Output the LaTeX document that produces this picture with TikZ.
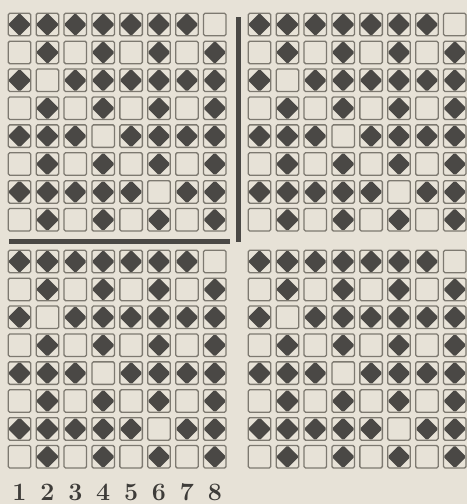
\documentclass[tikz,border=0pt]{standalone}
\usepackage{xcolor}
\definecolor{paper}{HTML}{E7E2D7}
\definecolor{ink}{HTML}{4A4845}
\definecolor{rim}{HTML}{7D7970}
\definecolor{digit}{HTML}{3E3C39}
\begin{document}
\begin{tikzpicture}[x=1pt,y=-1pt,
  cellbox/.style={draw=rim, line width=1.3pt, rounded corners=1.5pt,
    minimum size=22.5pt, inner sep=0pt, fill=paper},
  fullcell/.style={cellbox, path picture={
    \fill[ink] ([yshift=0.2pt]path picture bounding box.north)
      -- ([xshift=0.2pt]path picture bounding box.east)
      -- ([yshift=-0.2pt]path picture bounding box.south)
      -- ([xshift=-0.2pt]path picture bounding box.west) -- cycle;}},
  numlabel/.style={text=digit, font=\fontsize{25}{25}\selectfont\bfseries, inner sep=0pt},
  bar/.style={fill=ink}]
\fill[paper] (0,0) rectangle (467,504);
\useasboundingbox (0,0) rectangle (467,504);
\foreach \q/\ox/\oy in {1/8/13, 2/248/13, 3/8/250, 4/248/250} {
  \foreach \r/\a/\b/\c/\d/\e/\f/\g/\h in {
      1/1/1/1/1/1/1/1/0,
      2/0/1/0/1/0/1/0/1,
      3/1/0/1/1/1/1/1/1,
      4/0/1/0/1/0/1/0/1,
      5/1/1/1/0/1/1/1/1,
      6/0/1/0/1/0/1/0/1,
      7/1/1/1/1/1/0/1/1,
      8/0/1/0/1/0/1/0/1} {
    \foreach \k/\v in {1/\a,2/\b,3/\c,4/\d,5/\e,6/\f,7/\g,8/\h} {
      \ifnum\v=1
        \node[fullcell] (q\q r\r c\k) at ({\ox+27.9*(\k-1)+11.5},{\oy+27.9*(\r-1)+11.5}) {};
      \else
        \node[cellbox] (q\q r\r c\k) at ({\ox+27.9*(\k-1)+11.5},{\oy+27.9*(\r-1)+11.5}) {};
      \fi
    }
  }
}
% dividing bars
\coordinate (vtop) at (235.5,17);
\coordinate (vbot) at (240.5,242);
\coordinate (hl) at (9,238.5);
\coordinate (hr) at (230,243.5);
\fill[bar] (vtop) rectangle (vbot);
\fill[bar] (hl) rectangle (hr);
% column numbers
\foreach \k in {1,...,8} {
  \node[numlabel] (n\k) at ({8+27.9*(\k-1)+11.5},492) {\k};
}
\end{tikzpicture}
\end{document}
